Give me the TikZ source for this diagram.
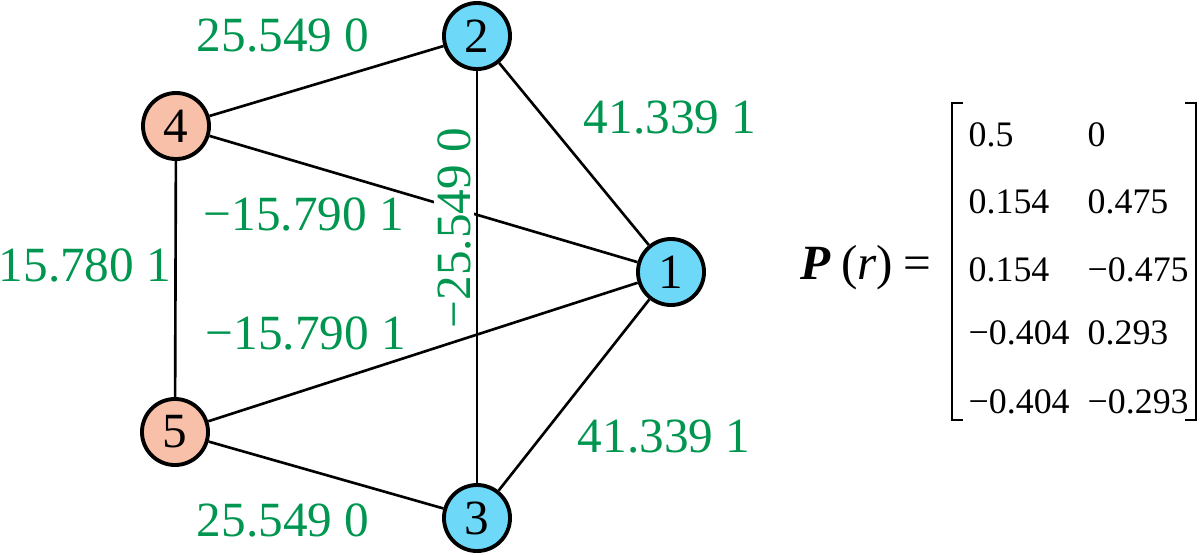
\documentclass[tikz,border=0pt]{standalone}
\usepackage{fontspec}
\setmainfont{Liberation Serif}
\definecolor{wtgreen}{RGB}{0,150,80}
\definecolor{gencyan}{RGB}{110,216,248}
\definecolor{loadpink}{RGB}{248,192,168}
\def\wlabel{\node[wt]}
\def\pline{\draw[line width=0.75pt]}

\begin{document}
\begin{tikzpicture}[x=0.01cm,y=-0.01cm,
    bus/.style={circle,draw,line width=1.1pt,minimum size=0.66cm,inner sep=0pt,
                font=\fontsize{14}{14}\selectfont},
    gen/.style={bus,fill=gencyan},
    load/.style={bus,fill=loadpink},
    wt/.style={text=wtgreen,inner sep=1pt,font=\fontsize{14}{14}\selectfont},
    ent/.style={anchor=west,inner sep=0pt,font=\fontsize{10.2}{10.2}\selectfont}]
    \useasboundingbox (0,0) rectangle (1200,554);
    % buses
    \node[gen]  (b1) at (671,272) {1};
    \node[gen]  (b2) at (477,36)  {2};
    \node[gen]  (b3) at (477,518) {3};
    \node[load] (b4) at (176,126) {4};
    \node[load] (b5) at (175,432) {5};
    % lines
    \pline (b4) -- (b2);
    \pline (b2) -- (b1);
    \pline (b2) -- (b3);
    \pline (b4) -- (b1);
    \pline (b4) -- (b5);
    \pline (b5) -- (b1);
    \pline (b5) -- (b3);
    \pline (b3) -- (b1);
    % line values
    \wlabel (w42)  at (283,35)  {25.549 0};
    \wlabel (w21)  at (670,118) {41.339 1};
    \wlabel (w41)  at (304,214) {−15.790 1};
    \wlabel[fill=white,rotate=90] (w23) at (454,228) {−25.549 0};
    \wlabel (w45)  at (85,265)  {15.780 1};
    \wlabel (w51)  at (306,333) {−15.790 1};
    \wlabel (w31)  at (664,437) {41.339 1};
    \wlabel (w53)  at (283,520) {25.549 0};
    % eigenvector matrix
    \node[anchor=east,inner sep=0pt,font=\fontsize{14}{14}\selectfont] (peq) at (932,268)
        {{\bfseries\itshape P}\kern3pt({\itshape r})\kern3pt=};
    \draw[line width=0.7pt] (963,103) -- (952,103) -- (952,420) -- (963,420);
    \draw[line width=0.7pt] (1185,103) -- (1196,103) -- (1196,420) -- (1185,420);
    \node[ent] (m11) at (968,135)  {0.5};
    \node[ent] (m12) at (1087,135) {0};
    \node[ent] (m21) at (968,202)  {0.154};
    \node[ent] (m22) at (1087,202) {0.475};
    \node[ent] (m31) at (968,270)  {0.154};
    \node[ent] (m32) at (1087,270) {−0.475};
    \node[ent] (m41) at (968,333)  {−0.404};
    \node[ent] (m42) at (1087,333) {0.293};
    \node[ent] (m51) at (968,402)  {−0.404};
    \node[ent] (m52) at (1087,402) {−0.293};
\end{tikzpicture}
\end{document}
